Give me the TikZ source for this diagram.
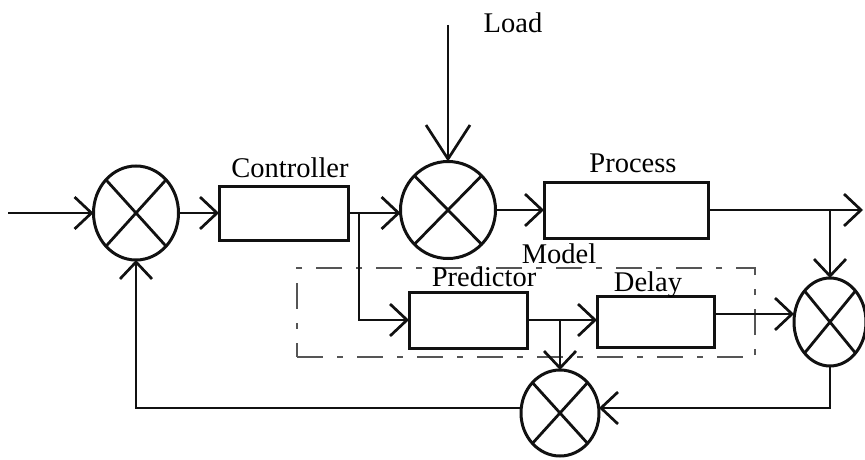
\documentclass[tikz,border=0pt]{standalone}
\usepackage{fontspec}
\setmainfont{Liberation Serif}
\usepackage{tikz}
\usetikzlibrary{
  arrows.meta,
  shapes.geometric,
  positioning,
  calc
}
\definecolor{cdLine}{HTML}{111111}
\definecolor{cdZone}{HTML}{555555}
\tikzset{
  cdnode/.style={draw=cdLine, line width=3pt, inner sep=0pt, outer sep=0pt},
  cdbox/.style={cdnode, rectangle},
  cdsum/.style={cdnode, ellipse},
  cdsig/.style={-{Straight Barb[length=17pt, width=32pt]}, line width=2.7pt, cdLine},
  cdload/.style={cdsig, -{Straight Barb[length=34pt, width=44pt]}},
  cdcross/.style={line width=2.8pt, cdLine},
  cdzone/.style={draw=cdZone, line width=1.3pt, dash pattern=on 26pt off 14pt on 6pt off 14pt, inner sep=0pt},
  cdtag/.style={font=\fontsize{28.5}{32}\selectfont, anchor=base, inner sep=0pt}
}

\begin{document}
\begin{tikzpicture}[x=1pt, y=-1pt]
  \useasboundingbox (0,0) rectangle (865,460);

  \node[cdzone, minimum width=458pt, minimum height=89pt] (model) at (526,312.5) {};

  \node[cdsum, minimum width=85pt, minimum height=94pt] (s1) at (136,213) {};
  \node[cdsum, minimum width=95pt, minimum height=97pt] (s2) at (448,210) {};
  \node[cdsum, minimum width=72pt, minimum height=88pt] (s3) at (830,322) {};
  \node[cdsum, minimum width=78pt, minimum height=86pt] (s4) at (560,413) {};

  \node[cdbox, minimum width=129pt, minimum height=54pt] (ctrl) at (283.5,213) {};
  \node[cdbox, minimum width=164pt, minimum height=56pt] (proc) at (626,210) {};
  \node[cdbox, minimum width=118pt, minimum height=56pt] (pred) at (468,320) {};
  \node[cdbox, minimum width=117pt, minimum height=51pt] (dly) at (655.5,322) {};

  \node[cdtag] (ctrlLbl) at (290,177) {Controller};
  \node[cdtag] (procLbl) at (633,172) {Process};
  \node[cdtag] (loadLbl) at (513,33) {Load};
  \node[cdtag] (modelLbl) at (559,263) {Model};
  \node[cdtag] (predLbl) at (484,286) {Predictor};
  \node[cdtag] (dlyLbl) at (648,291) {Delay};

  \foreach \s in {s1,s2,s3,s4} {
    \draw[cdcross] (\s.north east) -- (\s.south west) (\s.north west) -- (\s.south east);
  }

  \coordinate (in) at (8,213);
  \coordinate (loadTop) at (448,25);
  \coordinate (out) at (863,210);
  \coordinate (b1) at (359,213);
  \coordinate (b2) at (830,210);
  \coordinate (b3) at (560,320);

  \draw[cdsig] (in) -- (s1.west);
  \draw[cdsig] (s1.east) -- (ctrl.west);
  \draw[cdsig] (ctrl.east) -- (ctrl.east -| s2.west);
  \draw[cdload] (loadTop) -- (s2.north);
  \draw[cdsig] (s2.east) -- (proc.west);
  \draw[cdsig] (proc.east) -- (out);
  \draw[cdsig] (b2) -- (s3.north);
  \draw[cdsig] (b1) |- (pred.west);
  \draw[cdsig] (pred.east) -- (pred.east -| dly.west);
  \draw[cdsig] (b3) -- (s4.north);
  \draw[cdsig] ([yshift=8pt]dly.east) -- ([yshift=8pt]dly.east -| s3.west);
  \draw[cdsig] (s3.south) |- ([yshift=5pt]s4.east);
  \draw[cdsig] ([yshift=5pt]s4.west) -| (s1.south);
\end{tikzpicture}
\end{document}
